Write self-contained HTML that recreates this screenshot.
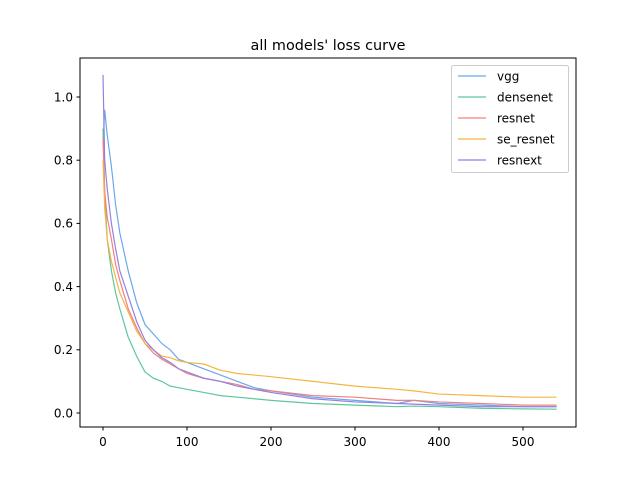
<!DOCTYPE html>
<html><head><meta charset="utf-8"><style>
body{margin:0;background:#fff}
svg text{font-family:"DejaVu Sans","Liberation Sans",sans-serif;fill:#000}
</style></head><body>
<svg id="chart" width="640" height="480" viewBox="0 0 640 480" xmlns="http://www.w3.org/2000/svg">
<rect width="640" height="480" fill="#fff"/>
<text x="328" y="50" font-size="14.4" text-anchor="middle">all models' loss curve</text>
<g id="plot"></g>
<rect x="80" y="58" width="496" height="369" fill="none" stroke="#000" stroke-width="1"/>
<g id="legend"></g>
</svg>
<script>
const epochs=[0,2,5,10,15,20,30,40,50,60,70,80,90,100,120,140,160,180,200,250,300,350,370,400,450,500,540];
const vgg=[0.85,0.96,0.88,0.78,0.66,0.57,0.45,0.35,0.28,0.25,0.22,0.2,0.17,0.16,0.14,0.12,0.1,0.08,0.07,0.05,0.04,0.03,0.04,0.03,0.025,0.02,0.02];
const densenet=[0.9,0.7,0.55,0.45,0.38,0.33,0.24,0.18,0.13,0.11,0.1,0.085,0.08,0.075,0.065,0.055,0.05,0.045,0.04,0.03,0.025,0.02,0.022,0.02,0.015,0.013,0.012];
const resnet=[0.87,0.7,0.62,0.55,0.47,0.42,0.33,0.27,0.22,0.19,0.17,0.155,0.14,0.125,0.11,0.1,0.09,0.075,0.07,0.055,0.05,0.04,0.04,0.035,0.03,0.025,0.025];
const se_resnet=[0.8,0.65,0.55,0.48,0.43,0.38,0.32,0.26,0.22,0.2,0.18,0.175,0.165,0.16,0.155,0.135,0.125,0.12,0.115,0.1,0.085,0.075,0.07,0.06,0.055,0.05,0.05];
const resnext=[1.07,0.8,0.71,0.6,0.52,0.45,0.37,0.29,0.23,0.2,0.175,0.16,0.14,0.13,0.11,0.1,0.085,0.075,0.065,0.045,0.035,0.03,0.028,0.025,0.02,0.02,0.02];
const seriesNames=["vgg","densenet","resnet","se_resnet","resnext"];
const xTicks=[0,100,200,300,400,500];
const yTicks=[0.0,0.2,0.4,0.6,0.8,1.0];
const colors=["#6aa9e9","#5ec79a","#f08080","#f5b544","#9580e0"];
const seriesData=[vgg,densenet,resnet,se_resnet,resnext];
const NS="http://www.w3.org/2000/svg";
function X(v){return 103+v*0.84;}
function Y(v){return 413-v*316;}
const plot=document.getElementById('plot');
const svg=document.getElementById('chart');
xTicks.forEach(t=>{
  const l=document.createElementNS(NS,'line');
  l.setAttribute('x1',X(t));l.setAttribute('x2',X(t));l.setAttribute('y1',427);l.setAttribute('y2',430.5);l.setAttribute('stroke','#000');
  
  
  svg.appendChild(l);
  const tx=document.createElementNS(NS,'text');
  tx.setAttribute('x',X(t));tx.setAttribute('y',446);tx.setAttribute('font-size','12');tx.setAttribute('text-anchor','middle');
  tx.textContent=t;
  
  
  svg.appendChild(tx);
});
yTicks.forEach(t=>{
  const l=document.createElementNS(NS,'line');
  l.setAttribute('x1',76.5);l.setAttribute('x2',80);l.setAttribute('y1',Y(t));l.setAttribute('y2',Y(t));l.setAttribute('stroke','#000');
  
  
  svg.appendChild(l);
  const tx=document.createElementNS(NS,'text');
  tx.setAttribute('x',73);tx.setAttribute('y',Y(t)+4.3);tx.setAttribute('font-size','12');tx.setAttribute('text-anchor','end');
  tx.textContent=t.toFixed(1);
  
  
  svg.appendChild(tx);
});
seriesData.forEach((s,i)=>{
  const p=document.createElementNS(NS,'polyline');
  p.setAttribute('points',s.map((v,j)=>X(epochs[j])+','+Y(v)).join(' '));
  p.setAttribute('fill','none');p.setAttribute('stroke',colors[i]);p.setAttribute('stroke-width','1.2');
  
  
  plot.appendChild(p);
});
const lg=document.getElementById('legend');
const box=document.createElementNS(NS,'rect');
box.setAttribute('x',451.5);box.setAttribute('y',65.5);box.setAttribute('width',117);box.setAttribute('height',107);box.setAttribute('rx',2);
box.setAttribute('fill','#fff');box.setAttribute('fill-opacity','0.8');box.setAttribute('stroke','#ccc');


lg.appendChild(box);
seriesNames.forEach((n,i)=>{
  const y=76+i*21;
  const l=document.createElementNS(NS,'line');
  l.setAttribute('x1',458);l.setAttribute('x2',486);l.setAttribute('y1',y);l.setAttribute('y2',y);l.setAttribute('stroke',colors[i]);l.setAttribute('stroke-width','1.2');
  
  
  lg.appendChild(l);
  const t=document.createElementNS(NS,'text');
  t.setAttribute('x',497);t.setAttribute('y',y+4.3);t.setAttribute('font-size','12');
  t.textContent=n;
  
  
  lg.appendChild(t);
});
</script>
</body></html>
